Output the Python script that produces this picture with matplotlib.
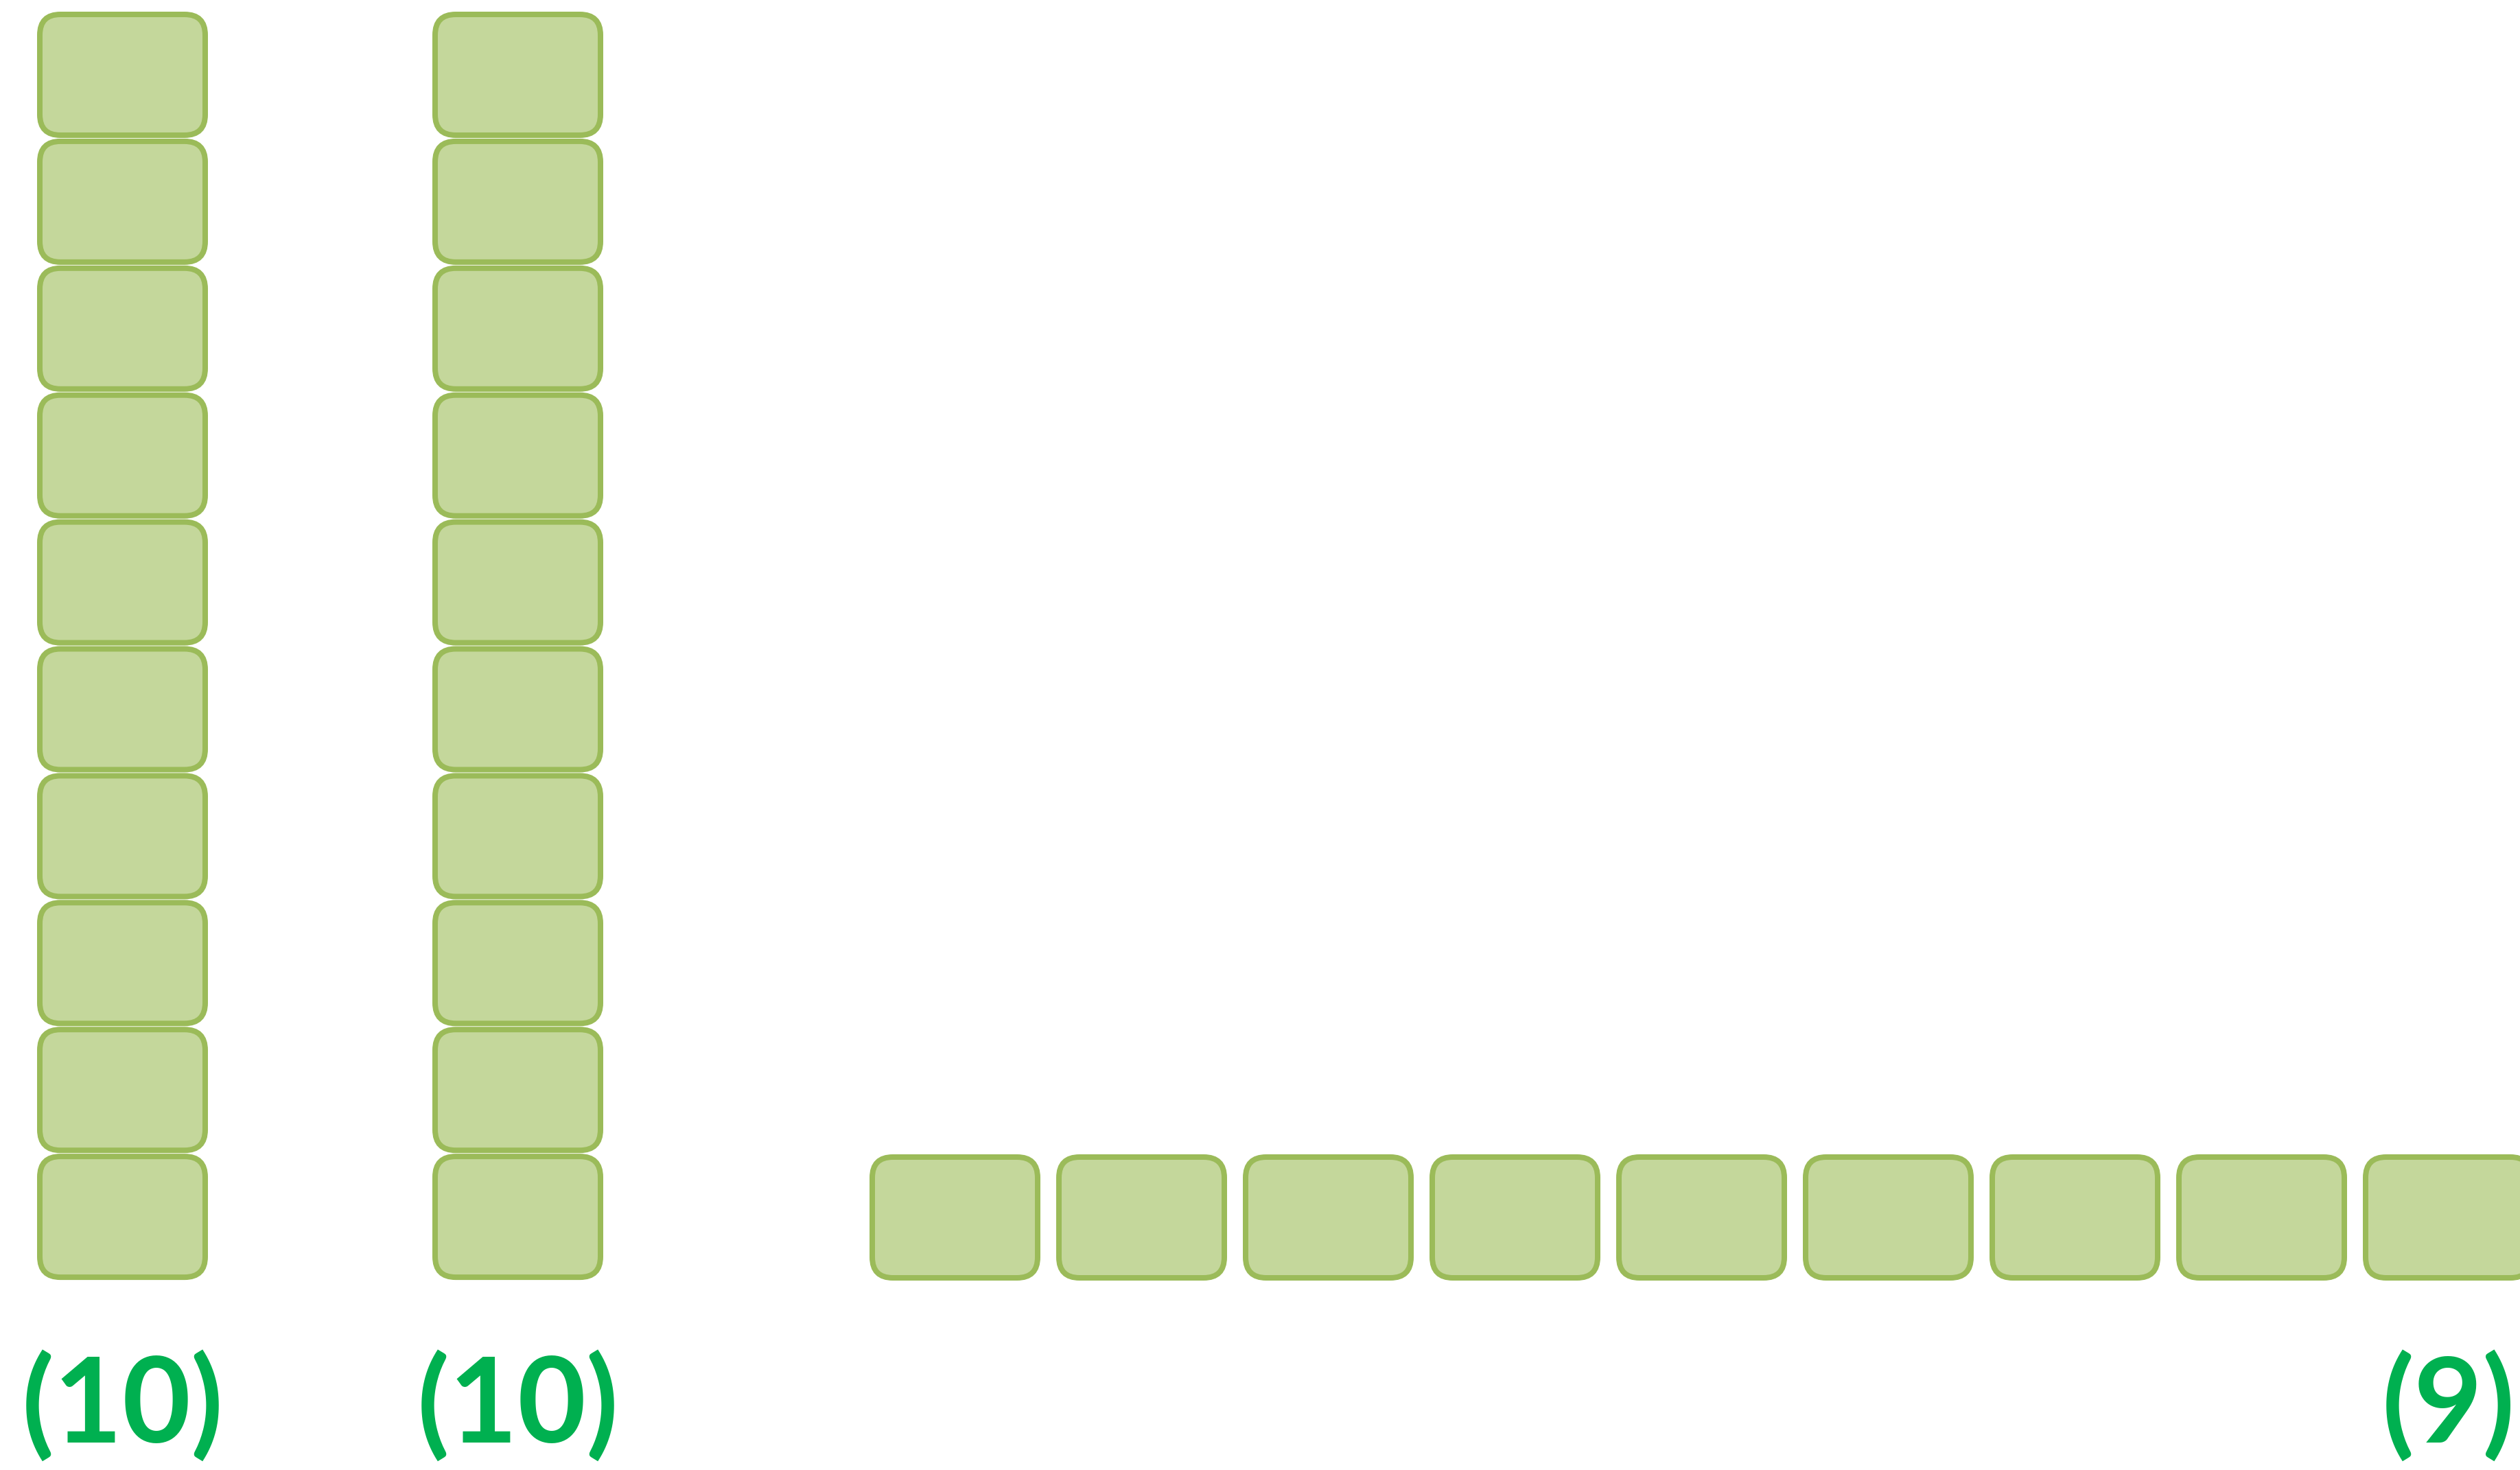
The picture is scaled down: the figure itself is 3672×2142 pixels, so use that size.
import matplotlib
matplotlib.use("Agg")
import matplotlib.pyplot as plt
from matplotlib.patches import FancyBboxPatch

# ---- data ----
group_counts = [10, 10, 9]
group_labels = ["(10)", "(10)", "(9)"]
group_orient = ["vertical", "vertical", "horizontal"]

# ---- layout (pixel coordinates, y downward) ----
W, H = 3673, 2142
DPI = 100
box_w, box_h = 249, 184
stroke = 8
v_pitch = 184.9
h_pitch = 272
group_x0 = [54, 630, 1267]     # left edge of first box
top_y0 = 17                    # top of first box in vertical columns
row_y0 = 1682                  # top of horizontal row boxes
label_baseline = 2102

fill_c = "#C4D79B"
edge_c = "#9BBB59"
text_c = "#00B050"

fig = plt.figure(figsize=(W / DPI, H / DPI), dpi=DPI)
ax = fig.add_axes([0, 0, 1, 1])
ax.set_xlim(0, W)
ax.set_ylim(H, 0)
ax.axis("off")

lw_pt = stroke * 72 / DPI

def draw_box(x, y):
    # x, y: outer top-left; path centered on stroke
    p = FancyBboxPatch((x + stroke / 2, y + stroke / 2),
                       box_w - stroke, box_h - stroke,
                       boxstyle="round,pad=0,rounding_size=30",
                       fc=fill_c, ec=edge_c, lw=lw_pt, zorder=2)
    ax.add_patch(p)

for g, (n, lab, ori) in enumerate(zip(group_counts, group_labels, group_orient)):
    x0 = group_x0[g]
    if ori == "vertical":
        for i in range(n):
            draw_box(x0, top_y0 + i * v_pitch)
        cx = x0 + box_w / 2
    else:
        for j in range(n):
            draw_box(x0 + j * h_pitch, row_y0)
        cx = x0 + (n - 1) * h_pitch + box_w / 2
    ax.text(cx, label_baseline, lab, ha="center", va="baseline",
            fontsize=124, fontweight="bold", color=text_c,
            family=["Lato", "DejaVu Sans"])

fig.savefig("out.png", dpi=DPI)
